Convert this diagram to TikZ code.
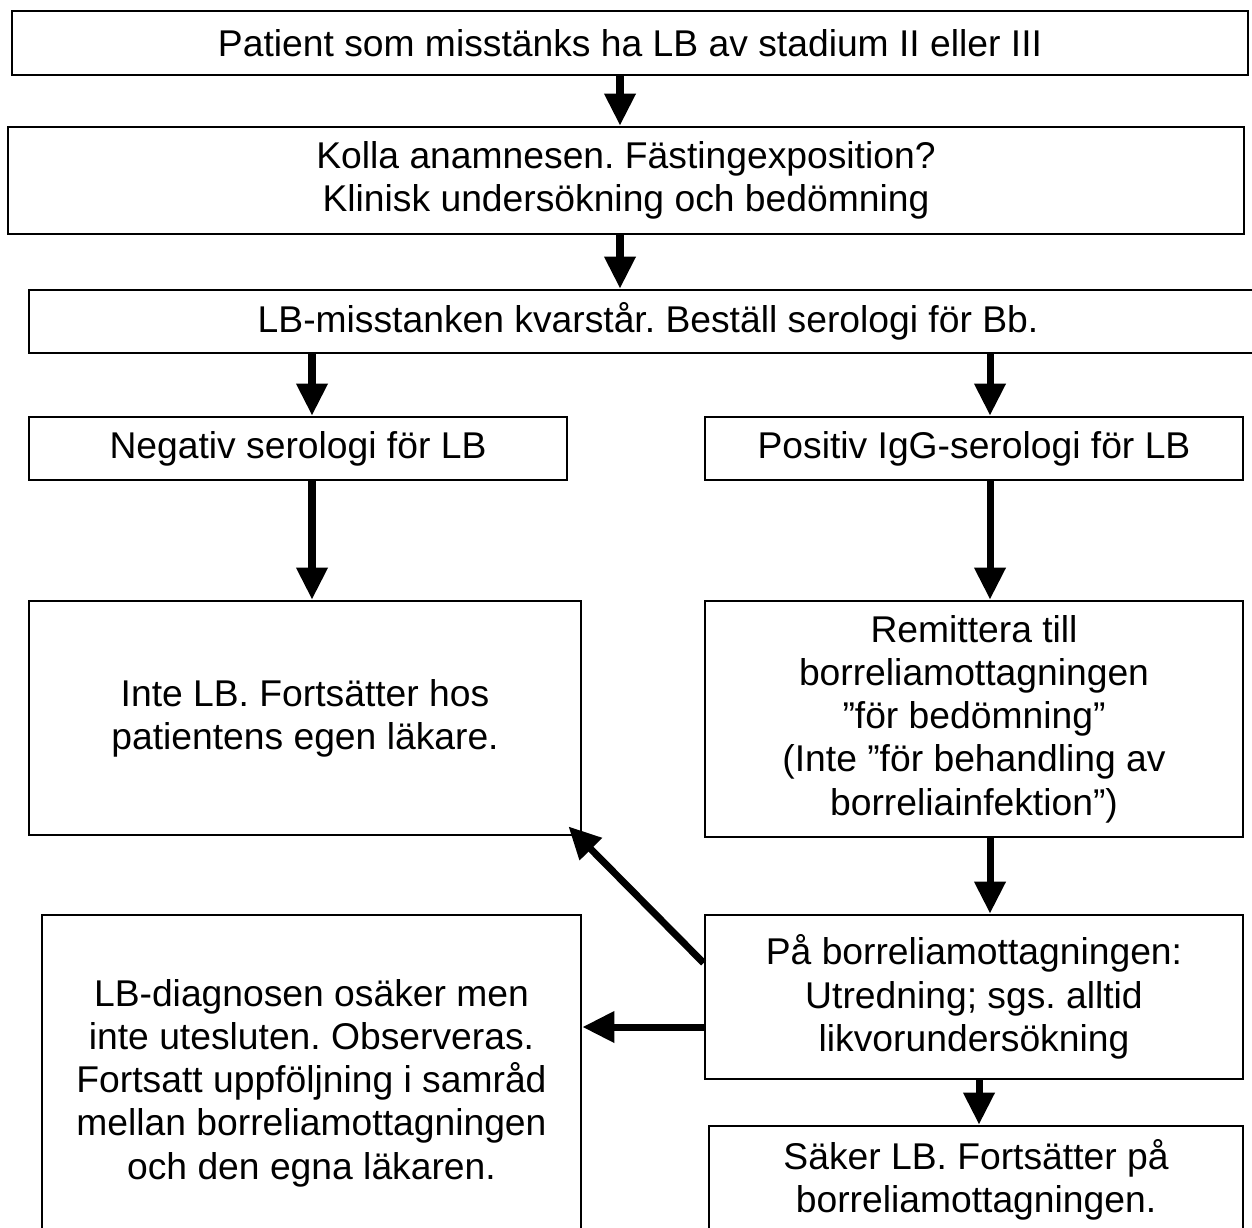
\documentclass[tikz,border=0pt]{standalone}
\usepackage{fontspec}
\setmainfont{Liberation Sans}
\usetikzlibrary{positioning}
\usetikzlibrary{calc}
\usetikzlibrary{arrows.meta}
\frenchspacing

\tikzset{
    flowbox/.style={draw, line width=1.6pt, inner sep=0pt, align=center, font=\fontsize{21.2}{24.6}\selectfont},
    flowarr/.style={line width=4pt, -{Triangle[length=0.64cm, width=0.6cm]}}
}

\begin{document}
\begin{tikzpicture}
    \useasboundingbox (0,0) rectangle (25.04,-24.54);

    \node[flowbox, minimum width=24.72cm, minimum height=1.28cm] (patient) at (12.6,-0.86) {Patient som misstänks ha LB av stadium II eller III};
    \node[flowbox, minimum width=24.72cm, minimum height=2.14cm] (anamnes) at (12.52,-3.61) {Kolla anamnesen. Fästingexposition?\\Klinisk undersökning och bedömning};
    \node[flowbox, minimum width=24.76cm, minimum height=1.26cm] (serologi) at (12.96,-6.43) {LB-misstanken kvarstår. Beställ serologi för Bb.};

    \node[flowbox, minimum width=10.76cm, minimum height=1.26cm] (negativ) at (5.96,-8.97) {Negativ serologi för LB};
    \node[flowbox, minimum width=10.76cm, minimum height=1.26cm] (positiv) at (19.48,-8.97) {Positiv IgG-serologi för LB};

    \node[flowbox, minimum width=11.04cm, minimum height=4.68cm] (inteLB) at (6.1,-14.36) {Inte LB. Fortsätter hos\\patientens egen läkare.};
    \node[flowbox, minimum width=10.76cm, minimum height=4.72cm] (remiss) at (19.48,-14.38) {Remittera till\\borreliamottagningen\\”för bedömning”\\(Inte ”för behandling av\\borreliainfektion”)};

    \node[flowbox, minimum width=10.76cm, minimum height=3.28cm] (mottag) at (19.48,-19.94) {På borreliamottagningen:\\Utredning; sgs. alltid\\likvorundersökning};
    \node[flowbox, minimum width=10.78cm, minimum height=6.72cm] (osaker) at (6.23,-21.66) {LB-diagnosen osäker men\\inte utesluten. Observeras.\\Fortsatt uppföljning i samråd\\mellan borreliamottagningen\\och den egna läkaren.};
    \node[flowbox, minimum width=10.68cm, minimum height=2.16cm] (saker) at (19.52,-23.6) {Säker LB. Fortsätter på\\borreliamottagningen.};

    % vertical flow
    \draw[flowarr] ([xshift=-0.2cm]patient.south) -- ([xshift=-0.2cm]patient.south |- anamnes.north);
    \draw[flowarr] ([xshift=-0.12cm]anamnes.south) -- ([xshift=-0.12cm]anamnes.south |- serologi.north);
    \draw[flowarr] ([xshift=0.28cm]negativ.north |- serologi.south) -- ([xshift=0.28cm]negativ.north);
    \draw[flowarr] ([xshift=0.32cm]positiv.north |- serologi.south) -- ([xshift=0.32cm]positiv.north);
    \draw[flowarr] ([xshift=0.28cm]negativ.south) -- ([xshift=0.28cm]negativ.south |- inteLB.north);
    \draw[flowarr] ([xshift=0.32cm]positiv.south) -- ([xshift=0.32cm]positiv.south |- remiss.north);
    \draw[flowarr] ([xshift=0.32cm]remiss.south) -- ([xshift=0.32cm]remiss.south |- mottag.north);
    \draw[flowarr] ([xshift=0.1cm]mottag.south) -- ([xshift=0.1cm]mottag.south |- saker.north);

    % back to the left column
    \draw[flowarr] ([yshift=0.68cm]mottag.west) -- ([shift={(-0.28,0.2)}]inteLB.south east);
    \draw[flowarr] ([yshift=-0.6cm]mottag.west) -- ([yshift=-0.6cm]mottag.west -| osaker.east);
\end{tikzpicture}
\end{document}
